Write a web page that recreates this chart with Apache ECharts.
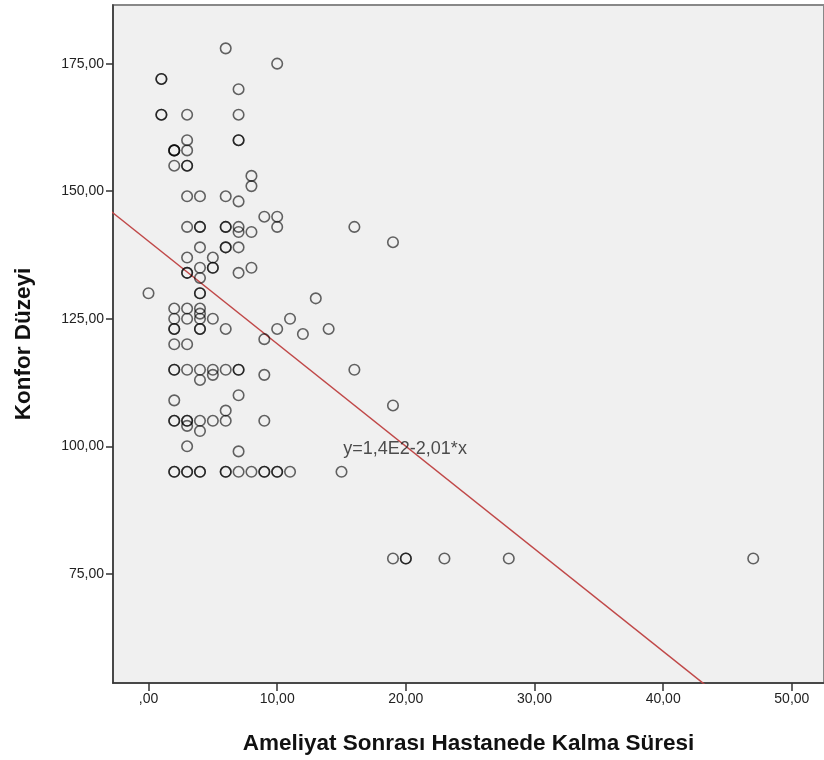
<!DOCTYPE html>
<html>
<head>
<meta charset="utf-8">
<script src="https://cdn.jsdelivr.net/npm/echarts@6/dist/echarts.min.js"></script>
<style>html,body{margin:0;padding:0;background:#fff}#c{width:824px;height:760px}</style>
</head>
<body>
<div id="c"></div>
<script>
// Ameliyat sonrası hastanede kalma süresi (gün) ve Konfor düzeyi
const stayDays = [
  0,
  1,1,1,1,
  2,2,2,2,2,2,2,2,2,2,2,2,2,2,2,2,
  3,3,3,3,3,3,3,3,3,3,3,3,3,3,3,3,3,3,3,3,
  4,4,4,4,4,4,4,4,4,4,4,4,4,4,4,4,4,4,4,
  5,5,5,5,5,5,5,
  6,6,6,6,6,6,6,6,6,6,6,6,
  7,7,7,7,7,7,7,7,7,7,7,7,7,7,
  8,8,8,8,8,
  9,9,9,9,9,9,
  10,10,10,10,10,10,
  11,11,
  12,13,14,15,
  16,16,
  19,19,19,
  20,20,
  23,28,47
];
const comfortScores = [
  130,
  172,172,165,165,
  158,158,158,155,127,125,123,123,120,115,115,109,105,105,95,95,
  165,160,158,155,155,149,143,137,134,134,127,125,120,115,105,105,104,100,95,95,
  149,143,143,139,135,133,130,130,127,126,125,123,123,115,113,105,103,95,95,
  137,135,135,125,115,114,105,
  178,149,143,143,139,139,123,115,107,105,95,95,
  170,165,160,160,148,143,142,139,134,115,115,110,99,95,
  153,151,142,135,95,
  145,121,114,105,95,95,
  175,145,143,123,95,95,
  125,95,
  122,129,123,95,
  143,115,
  140,108,78,
  78,78,
  78,78,78
];
const xTicks = [0, 10, 20, 30, 40, 50];
const yTicks = [75, 100, 125, 150, 175];
const fitIntercept = 140.2;
const fitSlope = -2.01;
const fitLabel = 'y=1,4E2-2,01*x';
const fitLabelAt = [15.1, 99.4];
const xTitle = 'Ameliyat Sonrası Hastanede Kalma Süresi';
const yTitle = 'Konfor Düzeyi';

const xRange = [-2.76, 52.5];
const yRange = [53.6, 186.5];

function fmt(v) {
  let s = Number(v).toFixed(2).replace('.', ',');
  if (s.indexOf('0,') === 0) s = s.slice(1);
  return s;
}

const points = stayDays.map((d, i) => [d, comfortScores[i]]);
const fitData = [xRange[0] - 1, xRange[1] + 1].map(x => [x, fitIntercept + fitSlope * x]);

const chart = echarts.init(document.getElementById('c'), null, {renderer: 'canvas'});
const font = 'Liberation Sans, Arial, sans-serif';
chart.setOption({
  animation: false,
  backgroundColor: '#ffffff',
  grid: {
    left: 113, top: 5, right: -3, bottom: 76,
    show: true, backgroundColor: '#f0f0f0', borderColor: '#888888', borderWidth: 2
  },
  xAxis: {
    type: 'value', min: xRange[0], max: xRange[1],
    name: xTitle, nameLocation: 'middle', nameGap: 49,
    nameTextStyle: {fontFamily: font, fontSize: 22.5, fontWeight: 'bold', color: '#111'},
    axisLine: {show: true, onZero: false, lineStyle: {color: '#333', width: 1.5}},
    axisTick: {show: true, length: 8, customValues: xTicks, lineStyle: {color: '#333', width: 1.5}},
    axisLabel: {customValues: xTicks, formatter: fmt, margin: 9, fontFamily: font, fontSize: 14, color: '#222'},
    splitLine: {show: false}
  },
  yAxis: {
    type: 'value', min: yRange[0], max: yRange[1],
    name: yTitle, nameLocation: 'middle', nameGap: 78,
    nameTextStyle: {fontFamily: font, fontSize: 22.5, fontWeight: 'bold', color: '#111'},
    axisLine: {show: true, onZero: false, lineStyle: {color: '#333', width: 1.5}},
    axisTick: {show: true, length: 7, customValues: yTicks, lineStyle: {color: '#333', width: 1.5}},
    axisLabel: {customValues: yTicks, formatter: fmt, margin: 9, fontFamily: font, fontSize: 14, color: '#222'},
    splitLine: {show: false}
  },
  series: [
    {
      type: 'line', data: fitData, clip: true, symbol: 'none', silent: true,
      lineStyle: {color: '#c04848', width: 1.5}, z: 1
    },
    {
      type: 'scatter', data: points, symbol: 'circle', symbolSize: 10.5,
      itemStyle: {color: 'rgba(0,0,0,0)', borderColor: 'rgba(0,0,0,0.75)', borderWidth: 1.6},
      z: 2
    },
    {
      type: 'scatter', data: [fitLabelAt], symbol: 'circle', symbolSize: 1, silent: true,
      itemStyle: {color: 'rgba(0,0,0,0)'},
      label: {show: true, position: 'right', distance: 0, formatter: fitLabel,
        fontFamily: font, fontSize: 18, color: '#222'},
      z: 3
    }
  ]
});
</script>
</body>
</html>
